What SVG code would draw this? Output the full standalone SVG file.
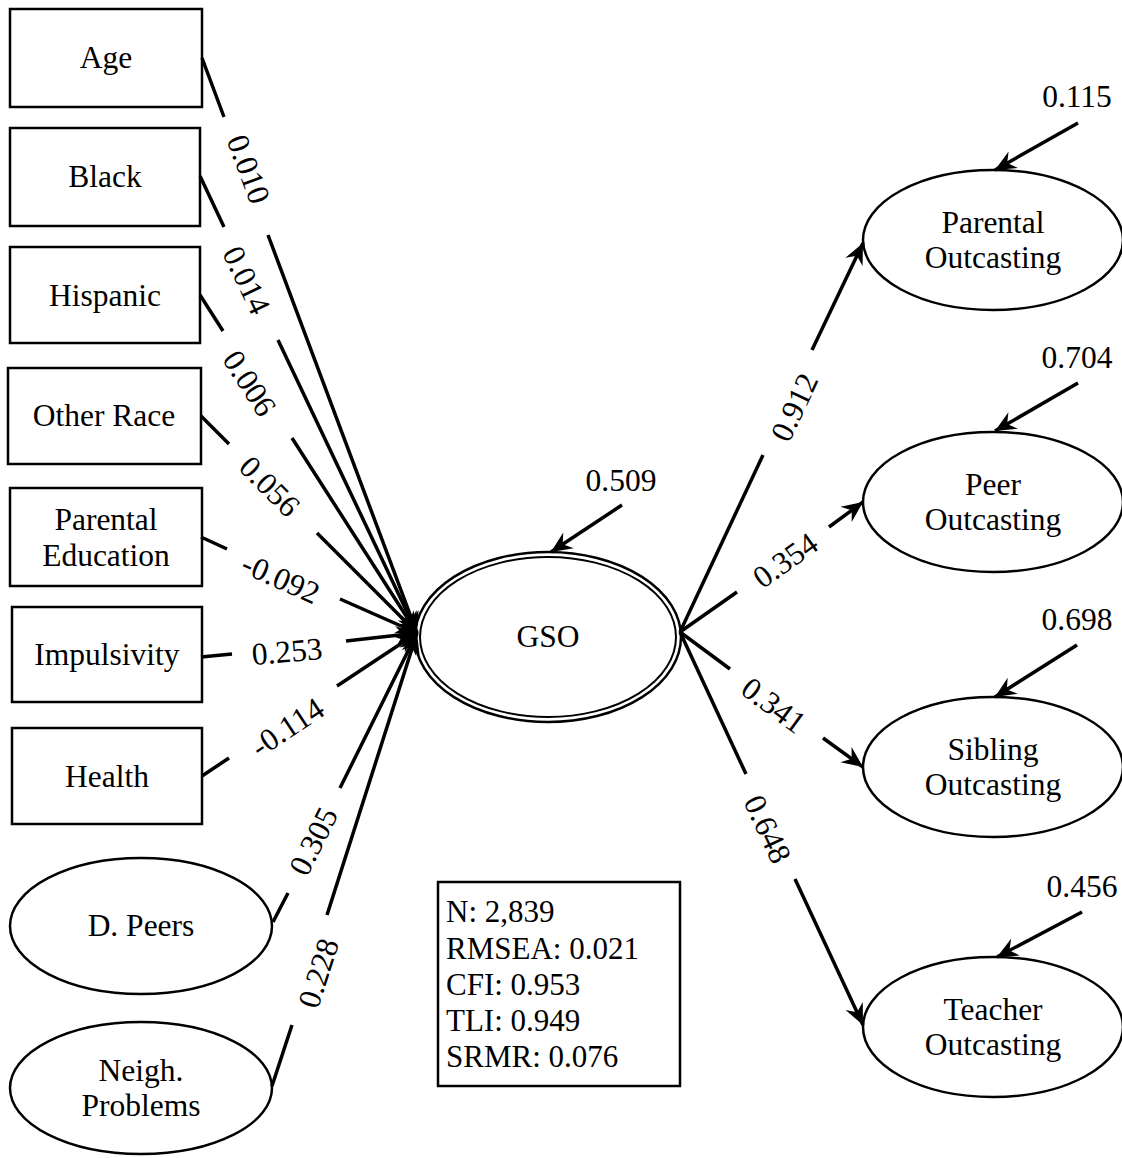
<svg xmlns="http://www.w3.org/2000/svg" width="1122" height="1158" viewBox="0 0 1122 1158">
<style>
text{font-family:"Liberation Serif","Times New Roman",serif;font-size:31.5px;fill:#000}
.c{text-anchor:middle}
.st{font-size:31px}
.box{fill:#fff;stroke:#000;stroke-width:2.5}
.ell{fill:#fff;stroke:#000;stroke-width:2.5}
.ln{fill:none;stroke:#000;stroke-width:3.5}
.lab{text-anchor:middle}
</style>
<defs>
<marker id="ah" markerUnits="userSpaceOnUse" markerWidth="30" markerHeight="24" viewBox="-25 -12 30 24" refX="0" refY="0" orient="auto" overflow="visible">
<path d="M0,0 L-21,-9.5 L-14,0 L-21,9.5 Z" fill="#000"/>
</marker>
</defs>

<g id="node-age"><rect class="box" x="10" y="9" width="192" height="98"/><text class="c" x="106" y="68">Age</text></g>
<g id="node-black"><rect class="box" x="10" y="128" width="190" height="98"/><text class="c" x="105" y="187">Black</text></g>
<g id="node-hispanic"><rect class="box" x="10" y="247" width="190" height="96"/><text class="c" x="105" y="306">Hispanic</text></g>
<g id="node-otherrace"><rect class="box" x="8" y="368" width="193" height="96"/><text class="c" x="104" y="426">Other Race</text></g>
<g id="node-pareduc"><rect class="box" x="10" y="488" width="192" height="98"/><text class="c" x="106" y="530">Parental</text><text class="c" x="106" y="566">Education</text></g>
<g id="node-impulsivity"><rect class="box" x="12" y="607" width="190" height="95"/><text class="c" x="107" y="665">Impulsivity</text></g>
<g id="node-health"><rect class="box" x="12" y="728" width="190" height="96"/><text class="c" x="107" y="787">Health</text></g>
<g id="node-dpeers"><ellipse class="ell" cx="141" cy="926" rx="131" ry="68"/><text class="c" x="141" y="936">D. Peers</text></g>
<g id="node-neigh"><ellipse class="ell" cx="141" cy="1088" rx="131" ry="66"/><text class="c" x="141" y="1081">Neigh.</text><text class="c" x="141" y="1116">Problems</text></g>

<g id="node-gso"><ellipse class="ell" cx="548" cy="637" rx="133" ry="85" stroke-width="2"/><ellipse fill="none" stroke="#000" stroke-width="2" cx="548" cy="637" rx="128" ry="80"/><text class="c" x="548" y="647">GSO</text></g>

<g id="node-parout"><ellipse class="ell" cx="993" cy="240" rx="130" ry="70"/><text class="c" x="993" y="233">Parental</text><text class="c" x="993" y="268">Outcasting</text></g>
<g id="node-peerout"><ellipse class="ell" cx="993" cy="502" rx="130" ry="70"/><text class="c" x="993" y="495">Peer</text><text class="c" x="993" y="530">Outcasting</text></g>
<g id="node-sibout"><ellipse class="ell" cx="993" cy="767" rx="130" ry="70"/><text class="c" x="993" y="760">Sibling</text><text class="c" x="993" y="795">Outcasting</text></g>
<g id="node-teachout"><ellipse class="ell" cx="993" cy="1027" rx="130" ry="70"/><text class="c" x="993" y="1020">Teacher</text><text class="c" x="993" y="1055">Outcasting</text></g>

<g id="fit-stats"><rect class="box" x="438" y="882" width="242" height="204" stroke-width="2"/>
<text class="st" x="446" y="922">N: 2,839</text>
<text class="st" x="446" y="959">RMSEA: 0.021</text>
<text class="st" x="446" y="995">CFI: 0.953</text>
<text class="st" x="446" y="1031">TLI: 0.949</text>
<text class="st" x="446" y="1067">SRMR: 0.076</text>
</g>

<g id="connectors">
<path class="ln" marker-end="url(#ah)" d="M202,58 L224,117 M268,235 L417,633"/>
<path class="ln" marker-end="url(#ah)" d="M200,176 L224,227 M278,340 L417,633"/>
<path class="ln" marker-end="url(#ah)" d="M200,295 L223,331 M292,438 L417,633"/>
<path class="ln" marker-end="url(#ah)" d="M201,416 L229,444 M317,533 L417,633"/>
<path class="ln" marker-end="url(#ah)" d="M201,537 L227,549 M340,599 L417,633"/>
<path class="ln" marker-end="url(#ah)" d="M201,657 L232,654 M346,641 L417,633"/>
<path class="ln" marker-end="url(#ah)" d="M202,776 L229,758 M337,686 L417,633"/>
<path class="ln" marker-end="url(#ah)" d="M273,922 L288,893 M340,788 L417,633"/>
<path class="ln" marker-end="url(#ah)" d="M272,1086 L292,1025 M327,915 L417,633"/>

<path class="ln" marker-end="url(#ah)" d="M680,632 L763,455 M812,350 L863,243"/>
<path class="ln" marker-end="url(#ah)" d="M680,632 L737,592 M829,527 L863,502"/>
<path class="ln" marker-end="url(#ah)" d="M680,632 L730,669 M823,738 L863,767"/>
<path class="ln" marker-end="url(#ah)" d="M680,632 L746,774 M795,879 L863,1025"/>

<path class="ln" marker-end="url(#ah)" d="M622,505 L551,552"/>
<path class="ln" marker-end="url(#ah)" d="M1078,123 L995,170"/>
<path class="ln" marker-end="url(#ah)" d="M1078,383 L995,431"/>
<path class="ln" marker-end="url(#ah)" d="M1077,645 L995,697"/>
<path class="ln" marker-end="url(#ah)" d="M1082,912 L997,957"/>

<text class="lab" transform="translate(249,169) rotate(69.5)" dy="0.35em">0.010</text>
<text class="lab" transform="translate(247,280) rotate(64.6)" dy="0.35em">0.014</text>
<text class="lab" transform="translate(250,383) rotate(57.3)" dy="0.35em">0.006</text>
<text class="lab" transform="translate(270,486) rotate(45.1)" dy="0.35em">0.056</text>
<text class="lab" transform="translate(281,578) rotate(24)" dy="0.35em">-0.092</text>
<text class="lab" transform="translate(287,651) rotate(-5)" dy="0.35em">0.253</text>
<text class="lab" transform="translate(287,727) rotate(-33.6)" dy="0.35em">-0.114</text>
<text class="lab" transform="translate(313,841) rotate(-63.5)" dy="0.35em">0.305</text>
<text class="lab" transform="translate(318,973) rotate(-72.2)" dy="0.35em">0.228</text>

<text class="lab" transform="translate(794,407) rotate(-64.8)" dy="0.35em">0.912</text>
<text class="lab" transform="translate(785,560) rotate(-35.4)" dy="0.35em">0.354</text>
<text class="lab" transform="translate(774,705) rotate(36.4)" dy="0.35em">0.341</text>
<text class="lab" transform="translate(768,829) rotate(65)" dy="0.35em">0.648</text>

<text class="c" x="621" y="491">0.509</text>
<text class="c" x="1077" y="107">0.115</text>
<text class="c" x="1077" y="368">0.704</text>
<text class="c" x="1077" y="630">0.698</text>
<text class="c" x="1082" y="897">0.456</text>
</g>
</svg>
